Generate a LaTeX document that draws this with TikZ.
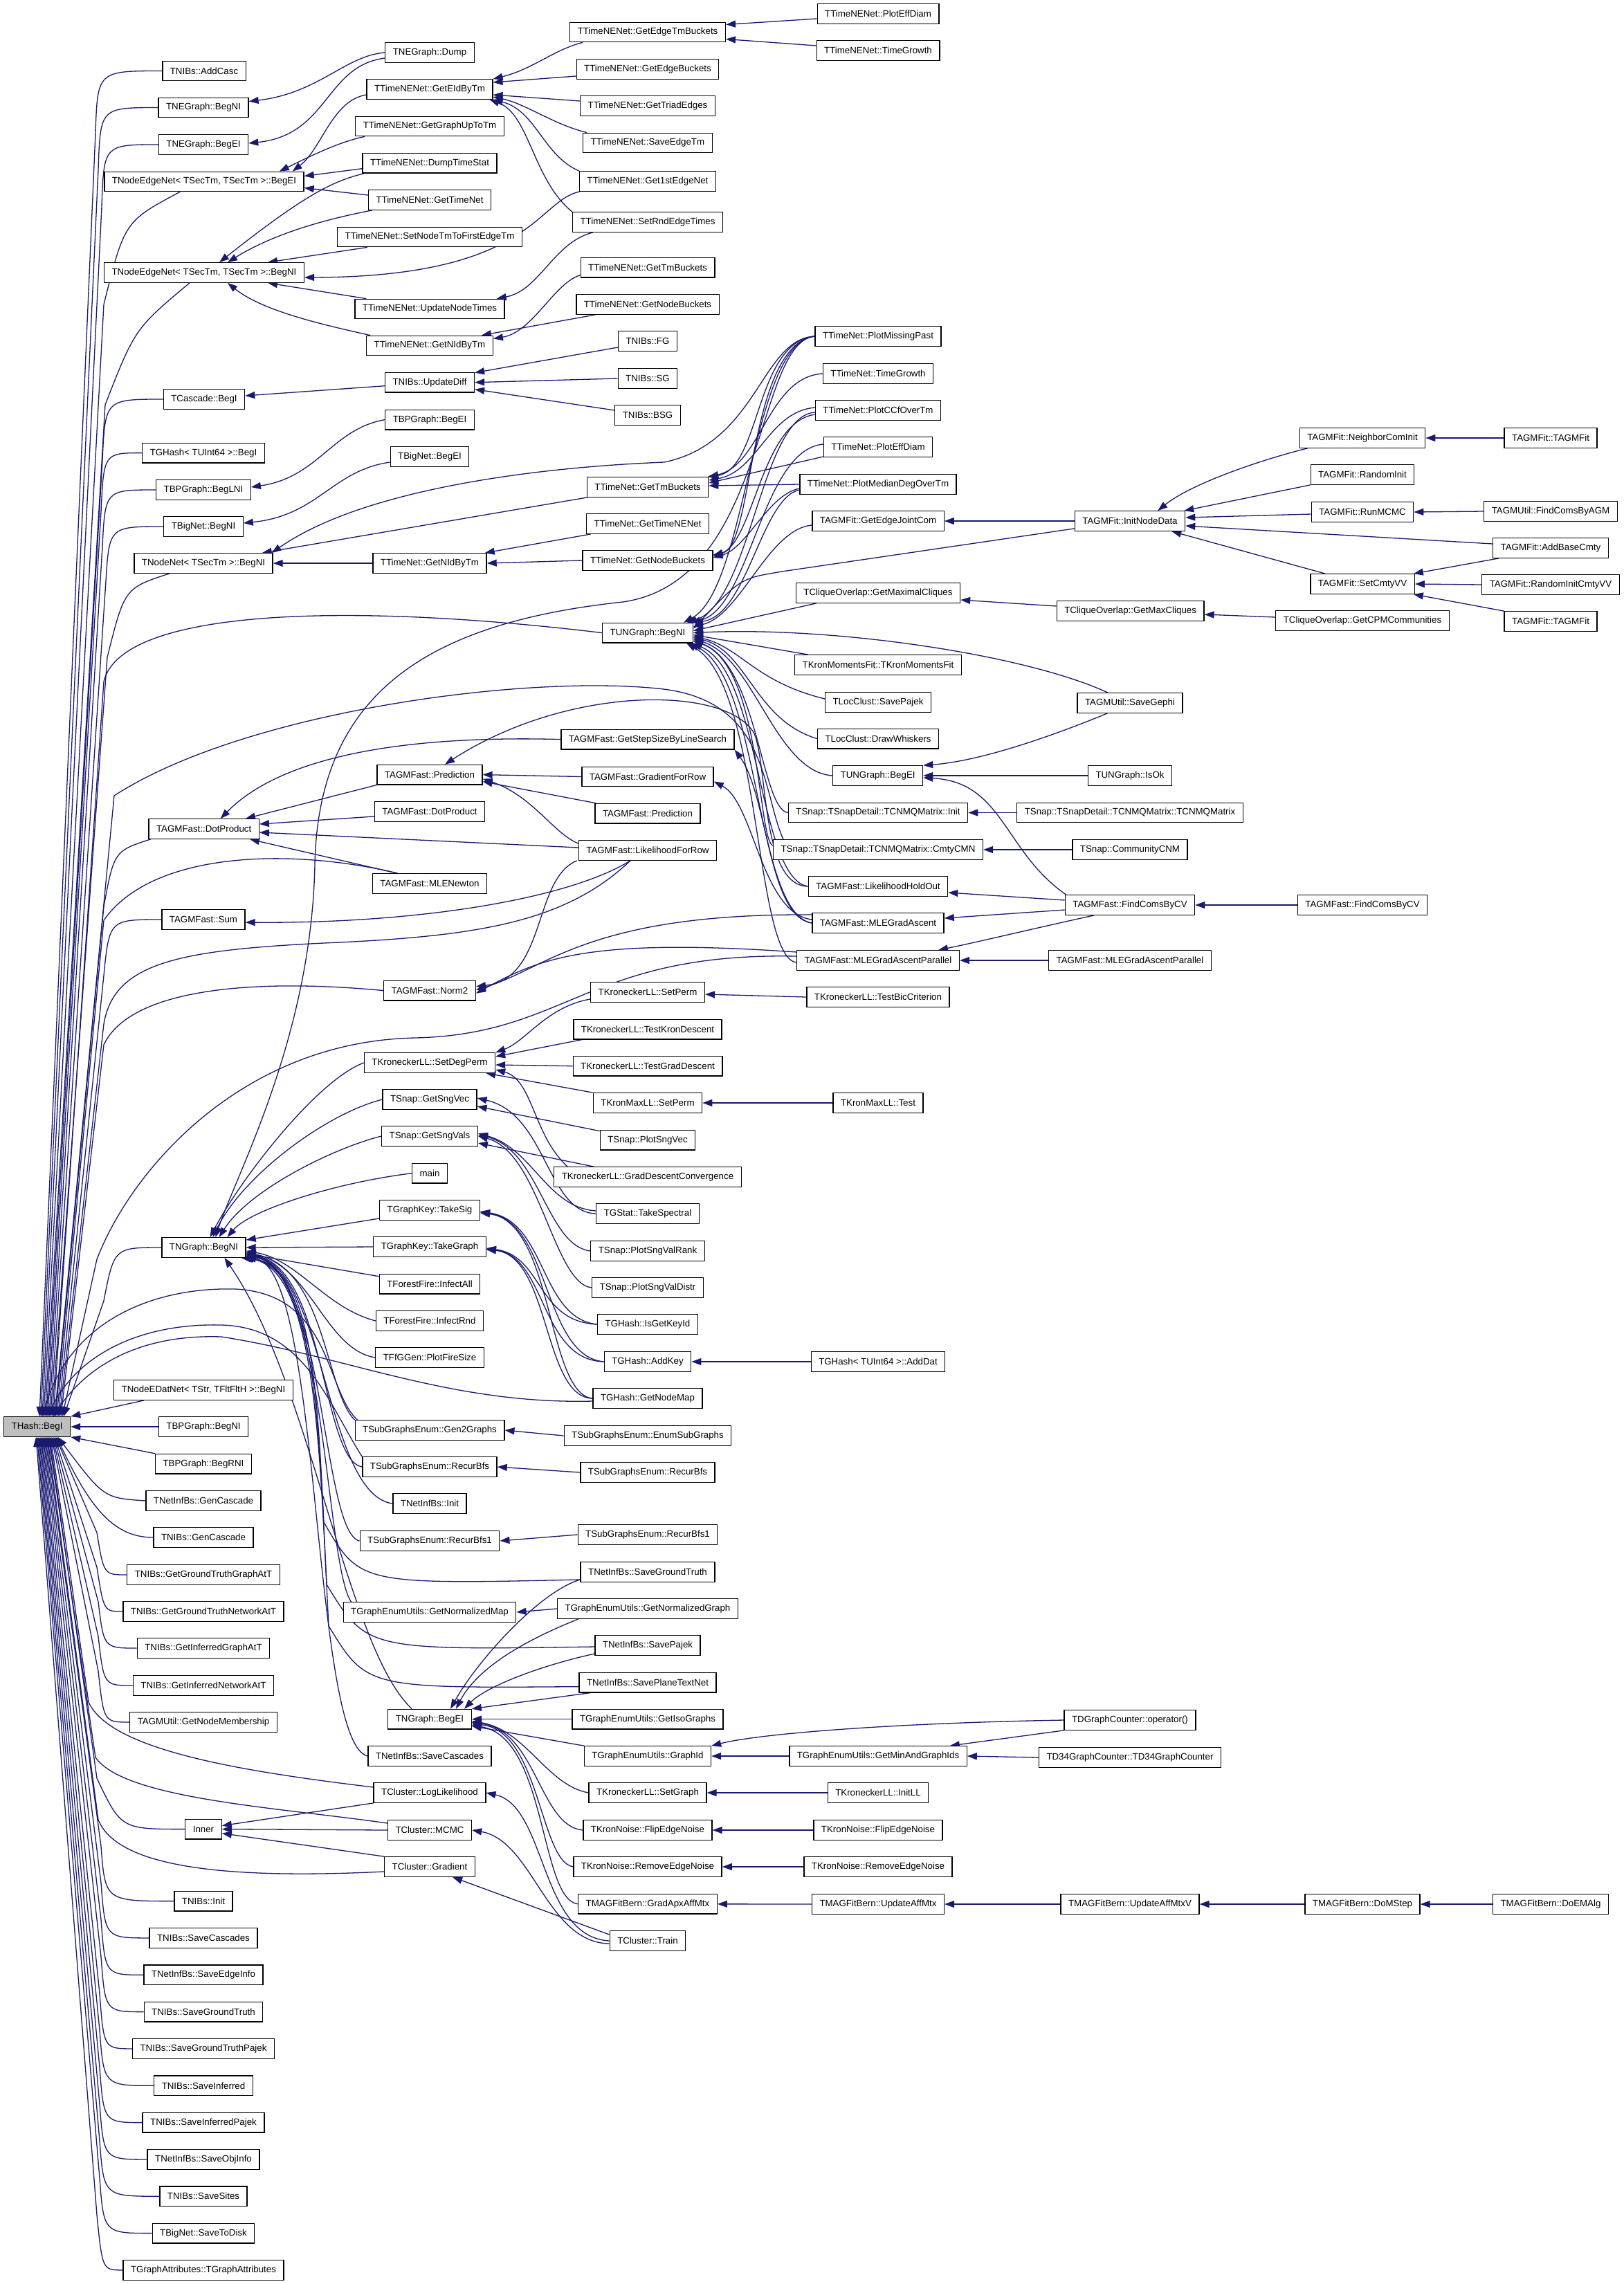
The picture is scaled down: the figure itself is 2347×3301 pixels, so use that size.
\documentclass[tikz,border=0pt]{standalone}
\usepackage{fontspec}
\setmainfont{Liberation Sans}
\usetikzlibrary{arrows.meta}
\definecolor{edgecol}{RGB}{25,25,112}
\pgfdeclarelayer{back}
\pgfdeclarelayer{edges}
\pgfsetlayers{back,edges,main}
\tikzset{
  fn/.style={draw=black, fill=white, line width=1.3pt, minimum height=28.5pt, inner xsep=11pt, inner ysep=0pt, font=\fontsize{13.3}{15}\selectfont},
  lnk/.style={draw=edgecol, line width=1.3pt, -{Triangle[length=14pt,width=10pt]}}
}
\newcommand\FN[4]{\node[fn] (#1) at (#2,#3) {#4};}
\begin{document}
\begin{tikzpicture}[x=1pt,y=-1pt]
\begin{pgfonlayer}{back}
\fill[white] (0,0) rectangle (2347,3301);
\end{pgfonlayer}
\useasboundingbox (0,0) rectangle (2347,3301);
% column 0
\node[fn, fill=black!25] (H) at (53.6,2062) {THash::BegI};
% column 1
\FN{c1a}{295}{102.5}{TNIBs::AddCasc}
\FN{c1b}{294}{155.5}{TNEGraph::BegNI}
\FN{c1c}{294}{209}{TNEGraph::BegEI}
\FN{c1d}{295}{262.5}{TNodeEdgeNet< TSecTm, TSecTm >::BegEI}
\FN{c1e}{295}{394}{TNodeEdgeNet< TSecTm, TSecTm >::BegNI}
\FN{c1f}{295}{577}{TCascade::BegI}
\FN{c1g}{294}{654.6}{TGHash< TUInt64 >::BegI}
\FN{c1h}{294}{708}{TBPGraph::BegLNI}
\FN{c1i}{294}{761}{TBigNet::BegNI}
\FN{c1j}{294}{814}{TNodeNet< TSecTm >::BegNI}
\FN{c1k}{294.7}{1198}{TAGMFast::DotProduct}
\FN{c1l}{294}{1329}{TAGMFast::Sum}
\FN{c1m}{294.5}{1803}{TNGraph::BegNI}
\FN{c1n}{294}{2009}{TNodeEDatNet< TStr, TFltFltH >::BegNI}
\FN{c1o}{294}{2062}{TBPGraph::BegNI}
\FN{c1p}{294}{2115.6}{TBPGraph::BegRNI}
\FN{c1q}{294}{2169}{TNetInfBs::GenCascade}
\FN{c1r}{294}{2222}{TNIBs::GenCascade}
\FN{c1s}{294}{2276}{TNIBs::GetGroundTruthGraphAtT}
\FN{c1t}{294}{2329}{TNIBs::GetGroundTruthNetworkAtT}
\FN{c1u}{294}{2382}{TNIBs::GetInferredGraphAtT}
\FN{c1v}{294}{2436}{TNIBs::GetInferredNetworkAtT}
\FN{c1w}{294}{2489}{TAGMUtil::GetNodeMembership}
\FN{c1x}{294}{2643.6}{Inner}
\FN{ba}{294}{2747.6}{TNIBs::Init}
\FN{bb}{294}{2800.9}{TNIBs::SaveCascades}
\FN{bc}{294}{2854.3}{TNetInfBs::SaveEdgeInfo}
\FN{bd}{294}{2907.6}{TNIBs::SaveGroundTruth}
\FN{be}{294}{2960.9}{TNIBs::SaveGroundTruthPajek}
\FN{bf}{294}{3014.3}{TNIBs::SaveInferred}
\FN{bg}{294}{3067.6}{TNIBs::SaveInferredPajek}
\FN{bh}{294}{3120.9}{TNetInfBs::SaveObjInfo}
\FN{bi}{294}{3174.2}{TNIBs::SaveSites}
\FN{bj}{294}{3227.6}{TBigNet::SaveToDisk}
\FN{bk}{294}{3280.9}{TGraphAttributes::TGraphAttributes}
% column 2
\FN{d01}{621}{76}{TNEGraph::Dump}
\FN{d02}{621}{129}{TTimeNENet::GetEIdByTm}
\FN{d03}{621}{182.5}{TTimeNENet::GetGraphUpToTm}
\FN{d04}{621}{235.7}{TTimeNENet::DumpTimeStat}
\FN{d05}{621}{289}{TTimeNENet::GetTimeNet}
\FN{d06}{621}{342.5}{TTimeNENet::SetNodeTmToFirstEdgeTm}
\FN{d07}{621}{446.5}{TTimeNENet::UpdateNodeTimes}
\FN{d08}{621}{499.5}{TTimeNENet::GetNIdByTm}
\FN{d09}{621}{552.7}{TNIBs::UpdateDiff}
\FN{d10}{621}{606.6}{TBPGraph::BegEI}
\FN{d11}{621}{660}{TBigNet::BegEI}
\FN{d12}{621}{814}{TTimeNet::GetNIdByTm}
\FN{d13}{621}{1119.6}{TAGMFast::Prediction}
\FN{d14}{621}{1173}{TAGMFast::DotProduct}
\FN{d15}{621}{1277}{TAGMFast::MLENewton}
\FN{d16}{621}{1431.6}{TAGMFast::Norm2}
\FN{d17}{621}{1536}{TKroneckerLL::SetDegPerm}
\FN{d18}{621}{1589}{TSnap::GetSngVec}
\FN{d19}{621}{1642}{TSnap::GetSngVals}
\FN{d20}{621}{1695.7}{main}
\FN{d21}{621}{1749}{TGraphKey::TakeSig}
\FN{d22}{621}{1802}{TGraphKey::TakeGraph}
\FN{d23}{621}{1855.7}{TForestFire::InfectAll}
\FN{d24}{621}{1909}{TForestFire::InfectRnd}
\FN{d25}{621}{1962}{TFfGGen::PlotFireSize}
\FN{d26}{621}{2067}{TSubGraphsEnum::Gen2Graphs}
\FN{d27}{621}{2120}{TSubGraphsEnum::RecurBfs}
\FN{d28}{621}{2173}{TNetInfBs::Init}
\FN{d29}{621}{2227}{TSubGraphsEnum::RecurBfs1}
\FN{d30}{621}{2330}{TGraphEnumUtils::GetNormalizedMap}
\FN{d31}{621}{2484.6}{TNGraph::BegEI}
\FN{d32}{621}{2538}{TNetInfBs::SaveCascades}
\FN{d33}{621}{2591}{TCluster::LogLikelihood}
\FN{d34}{621}{2645}{TCluster::MCMC}
\FN{d35}{621}{2698}{TCluster::Gradient}
% column 3
\FN{e01}{936}{46.5}{TTimeNENet::GetEdgeTmBuckets}
\FN{e02}{936}{100}{TTimeNENet::GetEdgeBuckets}
\FN{e03}{936}{153}{TTimeNENet::GetTriadEdges}
\FN{e04}{936}{206.5}{TTimeNENet::SaveEdgeTm}
\FN{e05}{936}{262}{TTimeNENet::Get1stEdgeNet}
\FN{e06}{936}{321}{TTimeNENet::SetRndEdgeTimes}
\FN{e07}{936}{386.6}{TTimeNENet::GetTmBuckets}
\FN{e08}{936}{440}{TTimeNENet::GetNodeBuckets}
\FN{e09}{936}{493}{TNIBs::FG}
\FN{e10}{936}{547}{TNIBs::SG}
\FN{e11}{936}{600}{TNIBs::BSG}
\FN{e12}{936}{704}{TTimeNet::GetTmBuckets}
\FN{e13}{936}{757}{TTimeNet::GetTimeNENet}
\FN{e14}{936}{810}{TTimeNet::GetNodeBuckets}
\FN{e15}{936}{914.6}{TUNGraph::BegNI}
\FN{e16}{936}{1068.6}{TAGMFast::GetStepSizeByLineSearch}
\FN{e17}{936}{1122.5}{TAGMFast::GradientForRow}
\FN{e18}{936}{1175.7}{TAGMFast::Prediction}
\FN{e19}{936}{1229}{TAGMFast::LikelihoodForRow}
\FN{e20}{936}{1434}{TKroneckerLL::SetPerm}
\FN{e21}{936}{1487.6}{TKroneckerLL::TestKronDescent}
\FN{e22}{936}{1540.7}{TKroneckerLL::TestGradDescent}
\FN{e23}{936}{1594}{TKronMaxLL::SetPerm}
\FN{e24}{936}{1647.6}{TSnap::PlotSngVec}
\FN{e25}{936}{1701}{TKroneckerLL::GradDescentConvergence}
\FN{e26}{936}{1754}{TGStat::TakeSpectral}
\FN{e27}{936}{1808}{TSnap::PlotSngValRank}
\FN{e28}{936}{1861}{TSnap::PlotSngValDistr}
\FN{e29}{936}{1914}{TGHash::IsGetKeyId}
\FN{e30}{936}{1968}{TGHash::AddKey}
\FN{e31}{936}{2021}{TGHash::GetNodeMap}
\FN{e32}{936}{2075}{TSubGraphsEnum::EnumSubGraphs}
\FN{e33}{936}{2128}{TSubGraphsEnum::RecurBfs}
\FN{e34}{936}{2218}{TSubGraphsEnum::RecurBfs1}
\FN{e35}{936}{2272}{TNetInfBs::SaveGroundTruth}
\FN{e36}{936}{2325}{TGraphEnumUtils::GetNormalizedGraph}
\FN{e37}{936}{2378}{TNetInfBs::SavePajek}
\FN{e38}{936}{2431.6}{TNetInfBs::SavePlaneTextNet}
\FN{e39}{936}{2484.6}{TGraphEnumUtils::GetIsoGraphs}
\FN{e40}{936}{2538}{TGraphEnumUtils::GraphId}
\FN{e41}{936}{2591}{TKroneckerLL::SetGraph}
\FN{e42}{936}{2645}{TKronNoise::FlipEdgeNoise}
\FN{e43}{936}{2698}{TKronNoise::RemoveEdgeNoise}
\FN{e44}{936}{2751.8}{TMAGFitBern::GradApxAffMtx}
\FN{e45}{936}{2805}{TCluster::Train}
% column 4
\FN{f01}{1269}{20}{TTimeNENet::PlotEffDiam}
\FN{f02}{1269}{73}{TTimeNENet::TimeGrowth}
\FN{f03}{1269}{486}{TTimeNet::PlotMissingPast}
\FN{f04}{1269}{540}{TTimeNet::TimeGrowth}
\FN{f05}{1269}{593}{TTimeNet::PlotCCfOverTm}
\FN{f06}{1269}{646}{TTimeNet::PlotEffDiam}
\FN{f07}{1269}{700}{TTimeNet::PlotMedianDegOverTm}
\FN{f08}{1269}{753}{TAGMFit::GetEdgeJointCom}
\FN{f09}{1269}{857}{TCliqueOverlap::GetMaximalCliques}
\FN{f10}{1269}{961}{TKronMomentsFit::TKronMomentsFit}
\FN{f11}{1269}{1015}{TLocClust::SavePajek}
\FN{f12}{1269}{1067.6}{TLocClust::DrawWhiskers}
\FN{f13}{1268.6}{1121}{TUNGraph::BegEI}
\FN{f14}{1269}{1174.5}{TSnap::TSnapDetail::TCNMQMatrix::Init}
\FN{f15}{1269}{1228}{TSnap::TSnapDetail::TCNMQMatrix::CmtyCMN}
\FN{f16}{1269}{1281}{TAGMFast::LikelihoodHoldOut}
\FN{f17}{1269}{1334}{TAGMFast::MLEGradAscent}
\FN{f18}{1269}{1388}{TAGMFast::MLEGradAscentParallel}
\FN{f19}{1269}{1441}{TKroneckerLL::TestBicCriterion}
\FN{f20}{1269}{1594}{TKronMaxLL::Test}
\FN{f21}{1269}{1968}{TGHash< TUInt64 >::AddDat}
\FN{f22}{1269}{2538}{TGraphEnumUtils::GetMinAndGraphIds}
\FN{f23}{1269}{2591}{TKroneckerLL::InitLL}
\FN{f24}{1269}{2645}{TKronNoise::FlipEdgeNoise}
\FN{f25}{1269}{2698}{TKronNoise::RemoveEdgeNoise}
\FN{f26}{1269}{2752}{TMAGFitBern::UpdateAffMtx}
% column 5
\FN{g01}{1633}{753}{TAGMFit::InitNodeData}
\FN{g02}{1633.6}{883}{TCliqueOverlap::GetMaxCliques}
\FN{g03}{1633}{1016}{TAGMUtil::SaveGephi}
\FN{g04}{1633}{1121}{TUNGraph::IsOk}
\FN{g05}{1633}{1174.5}{TSnap::TSnapDetail::TCNMQMatrix::TCNMQMatrix}
\FN{g06}{1633}{1228}{TSnap::CommunityCNM}
\FN{g07}{1633}{1308}{TAGMFast::FindComsByCV}
\FN{g08}{1633}{1388}{TAGMFast::MLEGradAscentParallel}
\FN{g09}{1633}{2486}{TDGraphCounter::operator()}
\FN{g10}{1633}{2540}{TD34GraphCounter::TD34GraphCounter}
\FN{g11}{1633}{2752}{TMAGFitBern::UpdateAffMtxV}
% column 6
\FN{h01}{1969}{633}{TAGMFit::NeighborComInit}
\FN{h02}{1969}{686}{TAGMFit::RandomInit}
\FN{h03}{1969}{740}{TAGMFit::RunMCMC}
\FN{h04}{1969}{844}{TAGMFit::SetCmtyVV}
\FN{h05}{1969}{897}{TCliqueOverlap::GetCPMCommunities}
\FN{h06}{1969}{1308}{TAGMFast::FindComsByCV}
\FN{h07}{1969}{2752}{TMAGFitBern::DoMStep}
% column 7
\FN{k01}{2241}{633}{TAGMFit::TAGMFit}
\FN{k02}{2241}{739}{TAGMUtil::FindComsByAGM}
\FN{k03}{2241}{792}{TAGMFit::AddBaseCmty}
\FN{k04}{2241}{845}{TAGMFit::RandomInitCmtyVV}
\FN{k05}{2241}{898}{TAGMFit::TAGMFit}
\FN{k06}{2241}{2752}{TMAGFitBern::DoEMAlg}

\begin{pgfonlayer}{edges}
% ---- into THash::BegI from above ----
\draw[lnk] (c1a.west) .. controls (141,102.5) .. (138,192) -- ([xshift=3.4pt]H.north);
\draw[lnk] (c1b.west) .. controls (145,155.5) .. (142,245) -- ([xshift=5.4pt]H.north);
\draw[lnk] (c1c.west) .. controls (150,209) .. (147,299) -- ([xshift=7.4pt]H.north);
\draw[lnk] ([xshift=-35pt]c1d.south) .. controls (180,320) .. (150,440) -- ([xshift=9.4pt]H.north);
\draw[lnk] ([xshift=-21pt]c1e.south) .. controls (195,475) .. (152,585) -- ([xshift=11.4pt]H.north);
\draw[lnk] (c1f.west) .. controls (152,577) .. (148,665) -- ([xshift=13.4pt]H.north);
\draw[lnk] (c1g.west) .. controls (150,654.6) .. (146,740) -- ([xshift=15.4pt]H.north);
\draw[lnk] (c1h.west) .. controls (152,708) .. (148,790) -- ([xshift=17.4pt]H.north);
\draw[lnk] (c1i.west) .. controls (158,761) .. (153,840) -- ([xshift=19.4pt]H.north);
\draw[lnk] ([xshift=-49pt]c1j.south) .. controls (180,850) .. (155,950) -- ([xshift=21.4pt]H.north);
\draw[lnk] (e15.west) .. controls (500,870) and (175,880) .. (150,985) -- ([xshift=23.4pt]H.north);
\draw[lnk] ([xshift=15pt]f15.north west) .. controls (1100,1140) and (1110,1010) .. (950,995) .. controls (750,975) and (350,1030) .. (165,1150) -- ([xshift=25.4pt]H.north);
\draw[lnk] ([xshift=-77pt]c1k.south) .. controls (165,1230) .. (150,1310) -- ([xshift=26.4pt]H.north);
\draw[lnk] ([xshift=37pt]d15.north west) .. controls (420,1225) and (220,1230) .. (150,1330) -- ([xshift=28.4pt]H.north);
\draw[lnk] (c1l.west) .. controls (158,1329) .. (150,1410) -- ([xshift=30.4pt]H.north);
\draw[lnk] ([xshift=-25pt]e19.south) .. controls (820,1330) and (700,1352) .. (490,1362) .. controls (260,1372) and (165,1390) .. (150,1480) -- ([xshift=32.4pt]H.north);
\draw[lnk] (d16.west) .. controls (380,1415) and (190,1425) .. (150,1510) -- ([xshift=34.4pt]H.north);
\draw[lnk] ([yshift=6pt]f18.west) .. controls (850,1376) and (820,1495) .. (600,1500) .. controls (350,1505) and (190,1690) .. (140,1820) -- ([xshift=36.4pt]H.north);
\draw[lnk] (c1m.west) .. controls (165,1803) .. (150,1880) -- ([xshift=38.4pt]H.north);
\draw[lnk] ([xshift=4pt]d26.north west) .. controls (470,2010) and (480,1870) .. (340,1863) .. controls (220,1860) and (100,1910) .. ([xshift=8pt]H.north);
\draw[lnk] (d27.north west) .. controls (475,2030) and (440,1918) .. (320,1915) .. controls (200,1912) and (110,1960) .. ([xshift=15pt]H.north);
\draw[lnk] ([yshift=-4pt]e31.west) .. controls (650,2030) and (500,1960) .. (320,1932) .. controls (200,1928) and (125,1975) .. ([xshift=23pt]H.north);
\draw[lnk] ([xshift=44pt]c1n.south west) -- (H.north east);
\draw[lnk] (c1o.west) -- (H.east);
\draw[lnk] (c1p.north west) -- (H.south east);
% ---- into THash::BegI from below ----
\draw[lnk] (c1q.west) .. controls (150,2165) .. ([xshift=30pt]H.south);
\draw[lnk] (c1r.west) .. controls (165,2222) and (130,2180) .. ([xshift=28.5pt]H.south);
\draw[lnk] (c1s.west) .. controls (150,2276) .. (140,2215) -- ([xshift=27pt]H.south);
\draw[lnk] (c1t.west) .. controls (150,2329) .. (140,2265) -- ([xshift=25.5pt]H.south);
\draw[lnk] (c1u.west) .. controls (150,2382) .. (142,2315) -- ([xshift=24pt]H.south);
\draw[lnk] (c1v.west) .. controls (150,2436) .. (142,2365) -- ([xshift=22.5pt]H.south);
\draw[lnk] (c1w.west) .. controls (150,2489) .. (142,2415) -- ([xshift=21pt]H.south);
\draw[lnk] ([yshift=8pt]d33.west) .. controls (350,2560) and (160,2530) .. (128,2460) -- ([xshift=19.5pt]H.south);
\draw[lnk] (c1x.west) .. controls (175,2643.6) .. (140,2570) -- ([xshift=18pt]H.south);
\draw[lnk] ([yshift=10pt]d34.west) .. controls (400,2612) and (180,2600) .. (138,2540) -- ([xshift=16.5pt]H.south);
\draw[lnk] ([yshift=-7pt]d35.west) .. controls (330,2716) and (170,2700) .. (142,2630) -- ([xshift=15pt]H.south);
\draw[lnk] (ba.west) .. controls (152,2747.6) .. (146,2668) -- ([xshift=13.5pt]H.south);
\draw[lnk] (bb.west) .. controls (152,2800.9) .. (146,2721) -- ([xshift=12pt]H.south);
\draw[lnk] (bc.west) .. controls (152,2854.3) .. (146,2774) -- ([xshift=10.5pt]H.south);
\draw[lnk] (bd.west) .. controls (152,2907.6) .. (146,2828) -- ([xshift=9pt]H.south);
\draw[lnk] (be.west) .. controls (150,2960.9) .. (144,2881) -- ([xshift=7.5pt]H.south);
\draw[lnk] (bf.west) .. controls (150,3014.3) .. (144,2934) -- ([xshift=6pt]H.south);
\draw[lnk] (bg.west) .. controls (150,3067.6) .. (144,2988) -- ([xshift=4.5pt]H.south);
\draw[lnk] (bh.west) .. controls (150,3120.9) .. (144,3041) -- ([xshift=3pt]H.south);
\draw[lnk] (bi.west) .. controls (150,3174.2) .. (144,3094) -- ([xshift=1.5pt]H.south);
\draw[lnk] (bj.west) .. controls (150,3227.6) .. (144,3148) -- ([xshift=0pt]H.south);
\draw[lnk] (bk.west) .. controls (148,3280.9) .. (140,3201) -- ([xshift=-1.5pt]H.south);
% ---- top section ----
\draw[lnk] ([yshift=-7pt]f01.west) -- ([yshift=11pt]e01.east);
\draw[lnk] ([yshift=7pt]f02.west) -- ([yshift=-10pt]e01.east);
\draw[lnk] ([xshift=19pt]e01.south west) .. controls (800,72) and (770,100) .. (d02.north east);
\draw[lnk] ([yshift=-10pt]e02.west) -- ([yshift=10pt]d02.east);
\draw[lnk] ([yshift=7pt]e03.west) -- ([yshift=-8pt]d02.east);
\draw[lnk] ([xshift=6pt]e04.north west) .. controls (800,180) and (760,150) .. ([yshift=-11pt]d02.east);
\draw[lnk] (e05.north west) .. controls (785,225) and (775,160) .. (d02.south east);
\draw[lnk] (e06.north west) .. controls (770,260) and (765,165) .. ([xshift=-5pt]d02.south east);
\draw[lnk] (d01.west) .. controls (500,80) and (460,135) .. ([yshift=9pt]c1b.east);
\draw[lnk] ([yshift=-8pt]d01.west) .. controls (470,95) and (475,195) .. ([yshift=2pt]c1c.east);
\draw[lnk] ([yshift=-8pt]d02.west) .. controls (480,145) and (465,215) .. ([xshift=-17pt]c1d.north east);
\draw[lnk] ([xshift=14pt]d03.south west) .. controls (490,205) and (450,225) .. ([xshift=-36pt]c1d.north east);
\draw[lnk] ([yshift=-8pt]d04.west) -- ([yshift=8pt]c1d.east);
\draw[lnk] ([yshift=7pt]d05.west) -- ([yshift=-9pt]c1d.east);
\draw[lnk] ([xshift=3pt]d04.south west) .. controls (480,262) and (440,282) .. ([xshift=22pt]c1e.north);
\draw[lnk] ([xshift=6pt]d05.south west) .. controls (480,315) and (400,335) .. ([xshift=34pt]c1e.north);
\draw[lnk] ([xshift=44pt]d06.south west) -- ([xshift=92pt]c1e.north);
\draw[lnk] ([xshift=1pt]e05.south west) .. controls (775,290) and (770,400) .. ([yshift=-7pt]c1e.east);
\draw[lnk] ([xshift=17pt]d07.north west) -- ([xshift=92pt]c1e.south);
\draw[lnk] ([xshift=6pt]d08.north west) .. controls (470,470) and (380,450) .. ([xshift=34pt]c1e.south);
\draw[lnk] ([xshift=30pt]e06.south west) .. controls (800,350) and (780,420) .. ([xshift=-12pt]d07.north east);
\draw[lnk] ([yshift=-11pt]e07.west) .. controls (800,410) and (770,480) .. ([yshift=10pt]d08.east);
\draw[lnk] ([xshift=28pt]e08.south west) -- ([xshift=-17pt]d08.north east);
\draw[lnk] ([yshift=-9pt]e09.west) -- ([yshift=14pt]d09.east);
\draw[lnk] (e10.west) -- (d09.east);
\draw[lnk] ([yshift=7pt]e11.west) -- ([yshift=-10pt]d09.east);
\draw[lnk] ([yshift=-5pt]d09.west) -- ([yshift=5pt]c1f.east);
\draw[lnk] (d10.west) .. controls (480,620) and (460,690) .. ([yshift=4pt]c1h.east);
\draw[lnk] ([yshift=-8pt]d11.west) .. controls (480,680) and (460,745) .. ([yshift=5pt]c1i.east);
\draw[lnk] ([xshift=1pt]e12.south west) -- ([xshift=-16pt]c1j.north east);
\draw[lnk] (f03.west) .. controls (1100,490) and (1095,640) .. (960,668) .. controls (760,676) and (520,710) .. ([xshift=-2pt]c1j.north east);
\draw[lnk] (d12.west) -- (c1j.east);
\draw[lnk] ([xshift=7pt]e13.south west) -- ([xshift=-3pt]d12.north east);
\draw[lnk] (e14.west) -- (d12.east);
% TTimeNet::GetTmBuckets
\draw[lnk] (f03.west) .. controls (1090,495) and (1100,680) .. ([xshift=-2pt]e12.north east);
\draw[lnk] (f04.west) .. controls (1110,545) and (1100,672) .. (e12.north east);
\draw[lnk] ([yshift=4pt]f05.west) .. controls (1110,595) and (1095,682) .. ([yshift=10pt]e12.east);
\draw[lnk] ([yshift=-14pt]f06.west) -- ([yshift=6pt]e12.east);
\draw[lnk] (f07.west) -- ([yshift=2pt]e12.east);
% TTimeNet::GetNodeBuckets
\draw[lnk] (f03.west) .. controls (1080,500) and (1090,790) .. ([yshift=8pt]e14.east);
\draw[lnk] ([yshift=-6pt]f05.west) .. controls (1100,610) and (1090,782) .. ([yshift=6pt]e14.east);
\draw[lnk] ([yshift=-6pt]f07.west) .. controls (1110,715) and (1080,792) .. ([yshift=4pt]e14.east);
% TUNGraph::BegNI
\draw[lnk] (f03.west) .. controls (1085,495) and (1080,850) .. ([xshift=-14pt]e15.north east);
\draw[lnk] ([yshift=-3pt]f05.west) .. controls (1100,600) and (1085,870) .. ([xshift=-9pt]e15.north east);
\draw[lnk] ([yshift=4pt]f06.west) .. controls (1100,650) and (1085,880) .. ([xshift=-4pt]e15.north east);
\draw[lnk] ([yshift=-8pt]f07.west) .. controls (1100,720) and (1080,890) .. (e15.north east);
\draw[lnk] ([yshift=-6pt]f08.west) .. controls (1110,765) and (1070,890) .. ([yshift=9pt]e15.east);
\draw[lnk] ([yshift=4pt]g01.south west) -- (1130,826) .. controls (1070,836) .. ([yshift=6pt]e15.east);
\draw[lnk] ([xshift=30pt]f09.south west) -- ([yshift=3pt]e15.east);
\draw[lnk] ([xshift=-32pt]g03.north) .. controls (1480,945) and (1200,905) .. (e15.east);
\draw[lnk] ([xshift=20pt]f10.north west) -- ([yshift=-3pt]e15.east);
\draw[lnk] ([yshift=5pt]f11.west) .. controls (1090,985) and (1070,935) .. ([yshift=-5pt]e15.east);
\draw[lnk] (f12.west) .. controls (1090,1040) and (1080,940) .. ([yshift=-7pt]e15.east);
\draw[lnk] (f13.west) .. controls (1120,1115) and (1090,950) .. ([yshift=-9pt]e15.east);
\draw[lnk] (f14.west) .. controls (1100,1170) and (1095,960) .. ([yshift=-11pt]e15.east);
\draw[lnk] ([yshift=6pt]f15.west) .. controls (1095,1215) and (1100,960) .. ([yshift=-12pt]e15.east);
\draw[lnk] (f16.west) .. controls (1095,1270) and (1100,970) .. ([xshift=-2pt]e15.south east);
\draw[lnk] (f17.west) .. controls (1090,1320) and (1100,980) .. ([xshift=-6pt]e15.south east);
\draw[lnk] ([yshift=-3pt]f18.west) .. controls (1090,1385) and (1100,990) .. ([xshift=-10pt]e15.south east);
% long curve PlotMissingPast -> TNGraph::BegNI
\draw[lnk] (f03.west) .. controls (1090,495) and (1110,840) .. (900,870) .. controls (620,900) and (460,1000) .. (455,1250) .. controls (450,1500) and (340,1700) .. ([xshift=17pt]c1m.north);
% ---- right section ----
\draw[lnk] (g01.west) -- (f08.east);
\draw[lnk] ([xshift=12pt]h01.south west) .. controls (1820,665) and (1720,700) .. ([xshift=-40pt]g01.north east);
\draw[lnk] (h02.south west) -- ([xshift=-2pt]g01.north east);
\draw[lnk] ([yshift=-3pt]h03.west) -- ([yshift=5pt]g01.east);
\draw[lnk] ([yshift=6pt]k03.west) -- ([yshift=-7pt]g01.east);
\draw[lnk] ([xshift=22pt]h04.north west) -- ([xshift=-20pt]g01.south east);
\draw[lnk] (k01.west) -- (h01.east);
\draw[lnk] (k02.west) -- (h03.east);
\draw[lnk] ([xshift=9pt]k03.south west) -- ([xshift=-2pt]h04.north east);
\draw[lnk] (k04.west) -- (h04.east);
\draw[lnk] (k05.north west) -- ([xshift=-2pt]h04.south east);
\draw[lnk] ([yshift=7pt]g02.west) -- ([yshift=-10pt]f09.east);
\draw[lnk] ([yshift=5pt]h05.west) -- ([yshift=-5pt]g02.east);
\draw[lnk] ([xshift=44pt]g03.south west) .. controls (1530,1060) and (1420,1100) .. (f13.north east);
\draw[lnk] (g04.west) -- (f13.east);
\draw[lnk] ([xshift=2pt]g07.north west) .. controls (1450,1230) and (1450,1130) .. ([yshift=-3pt]f13.east);
\draw[lnk] (g05.west) -- (f14.east);
\draw[lnk] (g06.west) -- (f15.east);
\draw[lnk] ([yshift=7pt]g07.west) -- ([yshift=-9pt]f16.east);
\draw[lnk] ([yshift=-7pt]g07.west) -- ([yshift=7pt]f17.east);
\draw[lnk] ([xshift=-52pt]g07.south) .. controls (1480,1345) and (1420,1360) .. ([xshift=-31pt]f18.north east);
\draw[lnk] (h06.west) -- (g07.east);
\draw[lnk] (g08.west) -- (f18.east);
\draw[lnk] (f19.west) -- ([yshift=-3pt]e20.east);
\draw[lnk] (f20.west) -- (e23.east);
\draw[lnk] (f21.west) -- (e30.east);
\draw[lnk] (g09.west) .. controls (1300,2490) and (1100,2505) .. (e40.north east);
\draw[lnk] (g09.south west) -- ([xshift=-25pt]f22.north east);
\draw[lnk] (g10.west) -- (f22.east);
\draw[lnk] (f22.west) -- (e40.east);
\draw[lnk] (f23.west) -- (e41.east);
\draw[lnk] (f24.west) -- (e42.east);
\draw[lnk] (f25.west) -- (e43.east);
\draw[lnk] (f26.west) -- (e44.east);
\draw[lnk] (g11.west) -- (f26.east);
\draw[lnk] (h07.west) -- (g11.east);
\draw[lnk] (k06.west) -- (h07.east);
% ---- TAGMFast middle ----
\draw[lnk] (e16.west) .. controls (560,1062) and (400,1100) .. ([xshift=24pt]c1k.north);
\draw[lnk] (d13.south west) -- ([xshift=-20pt]c1k.north east);
\draw[lnk] ([yshift=-7pt]d14.west) -- ([yshift=7pt]c1k.east);
\draw[lnk] ([yshift=4pt]e19.west) -- ([yshift=-5pt]c1k.east);
\draw[lnk] ([xshift=36pt]d15.north west) -- ([xshift=-14pt]c1k.south east);
\draw[lnk] (e17.west) -- (d13.east);
\draw[lnk] ([xshift=2pt]e18.north west) -- ([yshift=-10pt]d13.east);
\draw[lnk] ([yshift=10pt]e19.west) .. controls (800,1205) and (770,1150) .. ([yshift=-6pt]d13.east);
\draw[lnk] (f16.west) .. controls (1100,1280) and (1110,1110) .. (1090,1060) .. controls (1050,990) and (820,990) .. ([xshift=22pt]d13.north);
\draw[lnk] (f17.west) .. controls (1110,1325) and (1110,1150) .. (e16.south east);
\draw[lnk] ([yshift=5pt]f17.west) .. controls (1100,1320) and (1090,1160) .. ([yshift=-7pt]e17.east);
\draw[lnk] ([xshift=-2pt]e19.south west) .. controls (770,1270) and (790,1415) .. ([yshift=6pt]d16.east);
\draw[lnk] ([yshift=12pt]f17.west) .. controls (850,1320) and (790,1400) .. ([yshift=1pt]d16.east);
\draw[lnk] ([yshift=12pt]f18.west) .. controls (850,1355) and (780,1385) .. ([yshift=-4pt]d16.east);
\draw[lnk] ([xshift=-25pt]e19.south) .. controls (820,1300) and (600,1335) .. ([yshift=-4pt]c1l.east);
% ---- Kronecker / SVD ----
\draw[lnk] ([yshift=-10pt]e20.west) .. controls (790,1455) and (760,1505) .. (d17.north east);
\draw[lnk] ([xshift=13pt]e21.south west) -- ([yshift=9pt]d17.east);
\draw[lnk] (e22.west) -- ([yshift=-3pt]d17.east);
\draw[lnk] (e23.north west) -- ([xshift=-14pt]d17.south east);
\draw[lnk] ([xshift=20pt]e25.north west) .. controls (770,1640) and (770,1560) .. ([yshift=-10pt]d17.east);
\draw[lnk] (d17.west) .. controls (460,1560) and (350,1700) .. ([xshift=9pt]c1m.north);
\draw[lnk] ([yshift=13pt]e24.west) -- ([yshift=-10pt]d18.east);
\draw[lnk] (e26.west) .. controls (790,1752) and (790,1610) .. ([yshift=2pt]d18.east);
\draw[lnk] (d18.west) .. controls (470,1610) and (350,1700) .. ([xshift=13pt]c1m.north);
\draw[lnk] ([xshift=58pt]e25.north west) -- ([yshift=-10pt]d19.east);
\draw[lnk] ([yshift=4pt]e26.west) .. controls (790,1745) and (770,1660) .. ([yshift=4pt]d19.east);
\draw[lnk] (e27.west) .. controls (790,1800) and (780,1662) .. ([yshift=2pt]d19.east);
\draw[lnk] (e28.west) .. controls (800,1855) and (780,1665) .. (d19.east);
\draw[lnk] (d19.west) .. controls (480,1660) and (360,1720) .. ([xshift=22pt]c1m.north);
\draw[lnk] (d20.west) .. controls (480,1710) and (360,1750) .. ([xshift=34pt]c1m.north);
% ---- into TNGraph::BegNI ----
\draw[lnk] ([yshift=-12pt]d21.west) -- ([yshift=11pt]c1m.east);
\draw[lnk] (d22.west) -- (c1m.east);
\draw[lnk] ([yshift=11pt]d23.west) -- ([yshift=-9pt]c1m.east);
\draw[lnk] (d24.west) .. controls (470,1890) and (430,1820) .. ([yshift=-5pt]c1m.east);
\draw[lnk] (d25.west) .. controls (470,1950) and (450,1830) .. ([yshift=-7pt]c1m.east);
\draw[lnk] (d26.north west) .. controls (470,2010) and (470,1830) .. ([yshift=-8pt]c1m.east);
\draw[lnk] (d27.west) .. controls (465,2110) and (470,1830) .. ([yshift=-10pt]c1m.east);
\draw[lnk] (d28.west) .. controls (470,2160) and (470,1830) .. ([yshift=-11pt]c1m.east);
\draw[lnk] (d29.west) .. controls (465,2215) and (470,1830) .. ([yshift=-12pt]c1m.east);
\draw[lnk] ([xshift=12pt]d30.north west) .. controls (470,2260) and (470,1830) .. ([yshift=-13pt]c1m.east);
\draw[lnk] (d32.west) .. controls (450,2520) and (465,1830) .. (c1m.south east);
\draw[lnk] ([yshift=-11pt]e35.west) .. controls (520,2290) .. (468,2200) .. controls (458,2000) and (450,1830) .. ([xshift=-3pt]c1m.south east);
\draw[lnk] ([yshift=-2pt]e37.west) .. controls (530,2385) .. (472,2290) .. controls (460,2050) and (455,1830) .. ([xshift=-5pt]c1m.south east);
\draw[lnk] ([yshift=-6pt]e38.west) .. controls (530,2440) .. (475,2350) .. controls (462,2100) and (458,1830) .. ([xshift=-7pt]c1m.south east);
\draw[lnk] ([xshift=35pt]d31.north west) .. controls (500,2380) and (450,2000) .. ([xshift=30pt]c1m.south);
% TakeSig / TakeGraph
\draw[lnk] (e29.west) .. controls (780,1905) and (790,1765) .. ([yshift=-2pt]d21.east);
\draw[lnk] (e30.west) .. controls (785,1960) and (795,1765) .. ([yshift=-3pt]d21.east);
\draw[lnk] (e31.west) .. controls (790,2015) and (800,1765) .. ([yshift=-4pt]d21.east);
\draw[lnk] (e29.west) .. controls (775,1910) and (785,1815) .. ([yshift=-2pt]d22.east);
\draw[lnk] (e30.west) .. controls (780,1965) and (790,1815) .. ([yshift=-3pt]d22.east);
\draw[lnk] (e31.west) .. controls (785,2020) and (795,1815) .. ([yshift=-4pt]d22.east);
% subgraphs
\draw[lnk] (e32.west) -- (d26.east);
\draw[lnk] (e33.west) -- (d27.east);
\draw[lnk] (e34.west) -- (d29.east);
\draw[lnk] (e36.west) -- (d30.east);
% TNGraph::BegEI
\draw[lnk] ([yshift=-11pt]e35.west) .. controls (780,2300) and (690,2400) .. ([xshift=30pt]d31.north);
\draw[lnk] ([xshift=31pt]e36.south west) .. controls (760,2370) and (690,2410) .. ([xshift=38pt]d31.north);
\draw[lnk] ([yshift=-12pt]e37.west) .. controls (770,2410) and (700,2440) .. ([xshift=50pt]d31.north);
\draw[lnk] ([xshift=17pt]e38.south west) -- (d31.north east);
\draw[lnk] (e39.west) -- (d31.east);
\draw[lnk] (e40.north west) -- ([yshift=-10pt]d31.east);
\draw[lnk] (e41.west) .. controls (790,2580) and (760,2500) .. ([yshift=-3pt]d31.east);
\draw[lnk] (e42.west) .. controls (780,2640) and (775,2500) .. ([yshift=-5pt]d31.east);
\draw[lnk] (e43.west) .. controls (780,2690) and (780,2500) .. ([yshift=-7pt]d31.east);
\draw[lnk] (e44.west) .. controls (780,2745) and (790,2510) .. ([yshift=-9pt]d31.east);
% TCluster
\draw[lnk] (d33.south west) -- ([yshift=5pt]c1x.east);
\draw[lnk] (d34.west) -- (c1x.east);
\draw[lnk] (d35.north west) -- ([yshift=-6pt]c1x.east);
\draw[lnk] ([yshift=9pt]e45.west) -- ([xshift=33pt]d35.south);
\draw[lnk] (e45.west) .. controls (780,2800) and (790,2610) .. (d33.east);
\draw[lnk] ([yshift=-4pt]e45.west) .. controls (790,2808) and (770,2660) .. (d34.east);
\end{pgfonlayer}
\end{tikzpicture}
\end{document}
